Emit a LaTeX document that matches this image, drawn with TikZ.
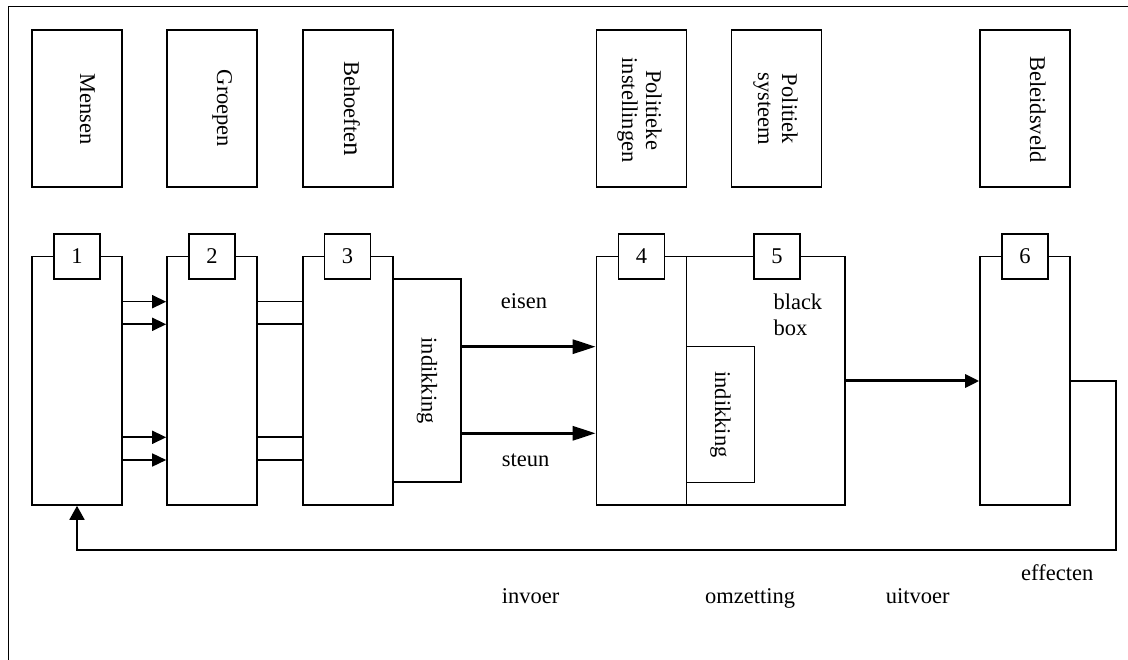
\documentclass[tikz,border=0pt]{standalone}
\usepackage{fontspec}
\setmainfont{Liberation Serif}
\usetikzlibrary{arrows.meta}
\newcommand{\lbl}{\fontsize{22.5}{24}\selectfont}

\begin{document}
\begin{tikzpicture}[x=1pt,y=-1pt,
  box/.style={draw, line width=1.6pt, inner sep=0pt, minimum width=90pt},
  topbox/.style={box, minimum height=157pt},
  unit/.style={box, minimum height=248.3pt},
  indbox/.style={draw, line width=1.6pt, inner sep=0pt, font=\lbl},
  tab/.style={draw, fill=white, line width=1.6pt, inner sep=0pt,
              minimum width=46pt, minimum height=45pt, font=\lbl},
  vtxt/.style={rotate=-90, inner sep=0pt, anchor=base, font=\lbl},
  vblock/.style={rotate=-90, inner sep=0pt, align=center, font=\lbl},
  txt/.style={inner sep=0pt, anchor=base west, font=\lbl},
  flow/.style={line width=1.6pt, -{Triangle[length=14pt,width=13pt]}},
  link/.style={line width=1.6pt},
  heavy/.style={line width=3pt, -{Triangle[length=23pt,width=14pt]}},
  heavyshort/.style={line width=3pt, -{Triangle[length=14pt,width=13pt]}},
  loop/.style={line width=1.8pt, -{Triangle[length=14pt,width=15pt]}},
  frame/.style={line width=1pt}
]
\useasboundingbox (0,0) rectangle (1128,660);

% outer frame
\draw[frame] (8.5,660) -- (8.5,7) -- (1128,7);

% headings
\node[topbox] (t1) at (77,108.5) {};
\node[topbox] (t2) at (212,108.5) {};
\node[topbox] (t3) at (348,108.5) {};
\node[topbox] (t4) at (641.5,108.5) {};
\node[topbox] (t5) at (776.5,108.5) {};
\node[topbox] (t6) at (1025,108.5) {};

\node[vtxt] (t1txt) at (80,109) {Mensen};
\node[vtxt] (t2txt) at (217,108.5) {Groepen};
\node[vtxt] (t3txt) at (344,108.5) {Behoefte{\fontsize{27}{27}\selectfont n}};
\node[vblock] (t4txt) at (639.5,110) {Politieke\\instellingen};
\node[vblock] (t5txt) at (775.5,109) {Politiek\\systeem};
\node[vtxt] (t6txt) at (1030,109.5) {Beleidsveld};

% process stages
\node[unit] (b1) at (77,380.85) {};
\node[unit] (b2) at (212,380.85) {};
\node[unit] (b3) at (348,380.85) {};
\node[unit] (b4) at (641.5,380.85) {};
\node[unit, minimum width=158.5pt] (b5) at (765.75,380.85) {};
\node[unit] (b6) at (1025,380.85) {};

\node[indbox, minimum width=68pt, minimum height=202.7pt] (i3) at (427,380.65)
  {\rotatebox{-90}{indikking}};
\node[indbox, minimum width=67.8pt, minimum height=135.6pt] (i5) at (720.4,414.5)
  {\rotatebox{-90}{indikking}};

% numbered tabs
\node[tab] (n1) at (77,256.5) {1};
\node[tab] (n2) at (212,256.5) {2};
\node[tab] (n3) at (347.5,256.5) {3};
\node[tab] (n4) at (641.5,256.5) {4};
\node[tab] (n5) at (777,256.5) {5};
\node[tab] (n6) at (1025,256.5) {6};

% row levels
\coordinate (r1) at (0,301.7);
\coordinate (r2) at (0,324.3);
\coordinate (r3) at (0,437.3);
\coordinate (r4) at (0,460);
\coordinate (re) at (0,346.7);
\coordinate (rs) at (0,433.3);
\coordinate (ro) at (0,381);
\coordinate (fb) at (1115.7,550);

\foreach \r in {r1,r2,r3,r4} {
  \draw[flow] (b1.east |- \r) -- (b2.west |- \r);
  \draw[link] (b2.east |- \r) -- (b3.west |- \r);
}

\draw[heavy] (i3.east |- re) -- (b4.west |- re);
\draw[heavy] (i3.east |- rs) -- (b4.west |- rs);
\draw[heavyshort] (b5.east |- ro) -- (b6.west |- ro);
\draw[loop] (b6.east |- ro) -| (fb) -| (b1.south);

% labels
\node[txt] (eisen) at (500.7,309) {eisen};
\node[txt] (steun) at (501.7,467) {steun};
\node[inner sep=0pt, anchor=north west, align=left,
      font=\fontsize{22.5}{26}\selectfont] (bb) at (773.3,294) {black\\box};
\node[txt] (invoer) at (501.7,603) {invoer};
\node[txt] (omzet) at (705,603) {omzetting};
\node[txt] (uitvoer) at (885.7,603) {uitvoer};
\node[txt] (effect) at (1021,580) {effecten};
\end{tikzpicture}
\end{document}
